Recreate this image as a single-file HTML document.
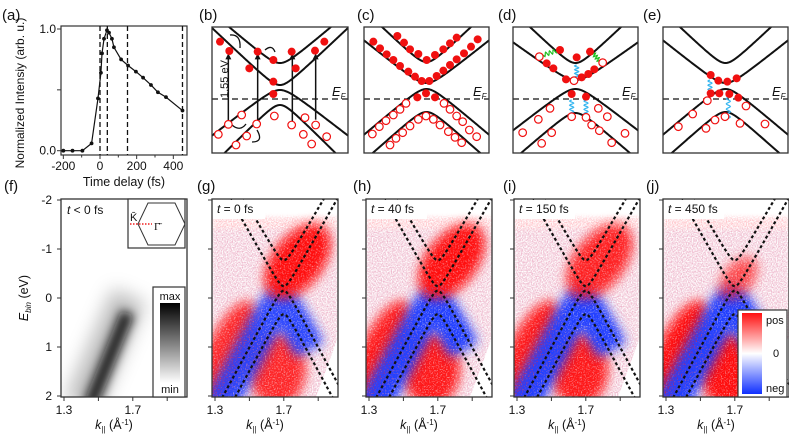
<!DOCTYPE html>
<html><head><meta charset="utf-8">
<style>
html,body{margin:0;padding:0;background:#fff;}
svg{display:block;font-family:"Liberation Sans",sans-serif;}
</style></head>
<body>
<svg id="fig" width="789" height="439" viewBox="0 0 789 439" xmlns="http://www.w3.org/2000/svg">
<defs>
  <filter id="spk" filterUnits="userSpaceOnUse" x="0" y="0" width="789" height="439">
    <feTurbulence type="fractalNoise" baseFrequency="0.75" numOctaves="1" seed="4" result="n"/>
    <feColorMatrix in="n" type="matrix" values="0 0 0 0 0  0 0 0 0 0  0 0 0 0 0  4 0 0 0 -1.0" result="m"/>
    <feGaussianBlur in="SourceGraphic" stdDeviation="5" result="b"/>
    <feComposite in="b" in2="m" operator="in"/>
  </filter>
  <filter id="spk2" filterUnits="userSpaceOnUse" x="0" y="0" width="789" height="439">
    <feTurbulence type="fractalNoise" baseFrequency="0.8" numOctaves="1" seed="9" result="n"/>
    <feColorMatrix in="n" type="matrix" values="0 0 0 0 0  0 0 0 0 0  0 0 0 0 0  2.2 0 0 0 -0.7" result="m"/>
    <feGaussianBlur in="SourceGraphic" stdDeviation="2" result="b"/>
    <feComposite in="b" in2="m" operator="in"/>
  </filter>
  <filter id="soft" filterUnits="userSpaceOnUse" x="0" y="0" width="789" height="439"><feGaussianBlur stdDeviation="7"/></filter>
  <filter id="blur5" x="-50%" y="-50%" width="200%" height="200%"><feGaussianBlur stdDeviation="5"/></filter>
  <filter id="blur9" x="-50%" y="-50%" width="200%" height="200%"><feGaussianBlur stdDeviation="9"/></filter>
  <linearGradient id="gray-grad" x1="0" y1="0" x2="0" y2="1">
    <stop offset="0" stop-color="#000"/><stop offset="1" stop-color="#fff"/>
  </linearGradient>
  <linearGradient id="div-grad" x1="0" y1="0" x2="0" y2="1">
    <stop offset="0" stop-color="#ff1010"/><stop offset="0.5" stop-color="#ffffff"/><stop offset="1" stop-color="#1030ff"/>
  </linearGradient>
</defs>
</svg>
<script>
// ---------- panel (a) data ----------
const delays = [-200,-150,-96,-46,-11,5,11,22,38,49,65,76,115,153,196,235,278,316,360,450];
const intensities = [0,0,0,0.06,0.43,0.64,0.80,0.92,0.99,0.97,0.92,0.85,0.75,0.70,0.65,0.60,0.54,0.48,0.44,0.33];
const markerTimes = [0,40,150,450];
const timeTicks = [-200,0,200,400];
const intTicks = [0.0,0.5,1.0];
const intTickLabels = ["0.0","","1.0"];

// ---------- ARPES panels ----------
const kTicks = [1.3,1.5,1.7,1.9];
const kTickLabels = ["1.3","","1.7",""];
const eTicks = [-2,-1,0,1,2];
const eTickLabels = ["-2","-1","0","1","2"];
const panelTimes = ["0","40","150","450"];
const cbVertices = [-0.77,-0.24];
const vbVertices = [-0.15,0.33];
const bandVel = [6.0,6.2,6.5,6.5];
const redBlob = [1.0,1.0,0.85,0.6];
const blueBand = [0.9,1.0,1.0,1.0];
const redLow = [0.8,0.9,0.9,1.0];

const NS="http://www.w3.org/2000/svg";
const svg=document.getElementById('fig');
function mk(tag,attrs,parent,text){const e=document.createElementNS(NS,tag);for(const k in attrs)e.setAttribute(k,attrs[k]);if(text!==undefined)e.textContent=text;(parent||svg).appendChild(e);return e;}

const labels=[["(a)",2,20],["(b)",199,20],["(c)",357,20],["(d)",498,20],["(e)",643,20],["(f)",4,191],["(g)",197,191],["(h)",353,191],["(i)",503,191],["(j)",646,191]];
labels.forEach(l=>{const t=mk('text',{x:l[1],y:l[2],'font-size':15,fill:'#111'},svg,l[0]);

});

// ---------- panel (a) ----------
(function(){
 const g=mk('g',{});
 
 
 const L=61,R=187,T=26,B=155;
 const X=t=>100+t*0.1833, Y=v=>150.7-v*121.7;
 const box=mk('rect',{x:L,y:T,width:R-L,height:B-T,fill:'none',stroke:'#333','stroke-width':1.2},g);
 
 
 markerTimes.forEach(t=>{const l=mk('line',{x1:X(t),x2:X(t),y1:T,y2:B,stroke:'#111','stroke-width':1.3,'stroke-dasharray':'5 3'},g);
  
  });
 timeTicks.forEach(t=>{mk('line',{x1:X(t),x2:X(t),y1:B,y2:B+4,stroke:'#333'},g);
  const tx=mk('text',{x:X(t),y:B+15,'font-size':12,'text-anchor':'middle',fill:'#111'},g,String(t));
  
  });
 [-100,100,300].forEach(t=>mk('line',{x1:X(t),x2:X(t),y1:B,y2:B+2.5,stroke:'#333'},g));
 intTicks.forEach((v,i)=>{mk('line',{x1:L-4,x2:L,y1:Y(v),y2:Y(v),stroke:'#333'},g);
  if(intTickLabels[i]){const tx=mk('text',{x:L-5,y:Y(v)+4,'font-size':12,'text-anchor':'end',fill:'#111'},g,intTickLabels[i]);
  
  }});
 const pts=delays.map((t,i)=>X(t)+','+Y(intensities[i])).join(' ');
 const pl=mk('polyline',{points:pts,fill:'none',stroke:'#111','stroke-width':1.2},g);
 
 
 delays.forEach((t,i)=>{const c=mk('circle',{cx:X(t),cy:Y(intensities[i]),r:1.9,fill:'#111'},g);
  
  });
 const xt=mk('text',{x:124,y:186,'font-size':12.5,'text-anchor':'middle',fill:'#111'},g,'Time delay (fs)');
 
 
 const yt=mk('text',{x:0,y:0,'font-size':12,'text-anchor':'middle',fill:'#111',transform:'translate(24,93) rotate(-90)'},g,'Normalized Intensiy (arb. u.)');
 
 
})();

// ---------- schematic panels b-e ----------
function band(g,L,T,W,v,k,dir){
 const a=8,pts=[];
 for(let dx=-W/2-5;dx<=W/2+5;dx+=1){const y=v+dir*(Math.sqrt(a*a+k*k*dx*dx)-a);pts.push((L+W/2+dx)+','+(T+y));}
 const p=mk('polyline',{points:pts.join(' '),fill:'none',stroke:'#111','stroke-width':2},g);
 
 
}
function schematic(name,L,W,bands,fillPts,openPts,ox,oy,extra){
 const T=27,H=126;
 const g=mk('g',{});
 
 
 const cid='clip-'+name;
 const cp=mk('clipPath',{id:cid},g);mk('rect',{x:L,y:T,width:W,height:H},cp);
 const inner=mk('g',{'clip-path':'url(#'+cid+')'},g);
 bands.forEach(b=>band(inner,L,T,W,b[0],b[1],b[2]));
 const ef=mk('line',{x1:L,x2:L+W,y1:99,y2:99,stroke:'#111','stroke-width':1.3,'stroke-dasharray':'6 4'},g);
 
 
 const eft=mk('text',{x:L+W-16,y:96,'font-size':13,'font-style':'italic',fill:'#111'},g,'E');
 mk('tspan',{'font-size':8,dy:3},eft,'F');
 
 
 if(extra)extra(g);
 fillPts.forEach(p=>{const c=mk('circle',{cx:p[0]/3+ox,cy:p[1]/3+oy,r:4,fill:'#f01010'},g);
  
  });
 openPts.forEach(p=>{const c=mk('circle',{cx:p[0]/3+ox,cy:p[1]/3+oy,r:3.8,fill:'#fff',stroke:'#f01010','stroke-width':1.2},g);
  
  });
 const fr=mk('rect',{x:L,y:T,width:W,height:H,fill:'none',stroke:'#333','stroke-width':1.3},g);
 
 
 return g;
}
function wiggle(g,x1,y1,x2,y2,color){
 const n=4,pts=[];const dx=x2-x1,dy=y2-y1,len=Math.hypot(dx,dy),nx=-dy/len,ny=dx/len;
 for(let i=0;i<=n*8;i++){const t=i/(n*8);const o=2*Math.sin(t*n*2*Math.PI);pts.push((x1+dx*t+nx*o)+','+(y1+dy*t+ny*o));}
 const p=mk('polyline',{points:pts.join(' '),fill:'none',stroke:color,'stroke-width':1.2},g);
 
 
}
// (b)
schematic('panel-b-schematic',212,136,[[36,0.85,-1],[58,0.95,-1],[63,0.78,1],[78,1.0,1]],
 [[75,125],[103,153],[163,205],[188,155],[235,180],[235,245],[235,282],[290,155],[302,205],[360,152],[388,125]],
 [[140,345],[100,373],[70,403],[185,372],[238,348],[155,408],[123,435],[290,375],[330,353],[362,375],[325,403],[350,432],[395,410]],
 195,0,function(g){
  [[100,375,160],[188,372,160],[292,372,160],[362,368,160]].forEach(a=>{
   const x=a[0]/3+195;
   const l=mk('line',{x1:x,x2:x,y1:a[1]/3-3,y2:a[2]/3+4,stroke:'#111','stroke-width':1.5},g);
   
   
   mk('path',{d:`M${x-3} ${a[2]/3+6} L${x} ${a[2]/3} L${x+3} ${a[2]/3+6}Z`,fill:'#111'},g);
  });
  [[`M230 35 Q241 34 240 48`],[`M265 50 Q272 44 275 52`],[`M232 125 Q240 132 246 124`],[`M257 130 Q264 142 252 142`]].forEach(d=>{
   const p=mk('path',{d:d[0],fill:'none',stroke:'#111','stroke-width':1.3},g);
   
   });
  const t=mk('text',{x:0,y:0,'font-size':11,fill:'#111',transform:'translate(228,98) rotate(-90)'},g,'1.55 eV');
  
  
 });
// (c)
schematic('panel-c-schematic',364,125,[[35,0.95,-1],[56,0.8,-1],[62,0.85,1],[85,0.9,1]],
 [[100,125],[120,145],[140,163],[160,180],[180,198],[205,215],[225,230],[245,243],[268,243],[290,228],[310,212],[330,195],[350,178],[372,160],[393,140],[413,118],
  [172,108],[192,128],[210,148],[235,162],[260,180],[285,165],[310,148],[330,130],[350,113],[232,292],[258,280],[285,292]],
 [[198,310],[180,328],[160,345],[138,362],[118,380],[97,402],[312,310],[330,328],[350,348],[368,365],[388,390],[410,410],
  [258,348],[235,358],[210,378],[188,398],[168,415],[150,435],[280,358],[300,375],[325,395],[345,412],[365,428]],
 340,0);
// (d)
schematic('panel-d-schematic',513,125,[[36,0.95,-1],[53,0.72,-1],[62,0.78,1],[86,0.87,1]],
 [[180,150],[140,190],[160,205],[230,172],[270,155],[283,208],[265,222],[245,232],[198,238],[215,282],[258,290]],
 [[118,170],[222,242],[308,188],[150,325],[115,358],[68,398],[125,430],[155,398],[215,350],[258,352],[295,325],[322,350],[275,375],[298,392],[335,428],[375,400]],
 500,0,function(g){
  wiggle(g,500+130/3,165/3,500+176/3,150/3,'#22c022');
  wiggle(g,500+278/3,158/3,500+300/3,185/3,'#22c022');
  wiggle(g,500+230/3,195/3,500+230/3,240/3,'#33b5f0');
  wiggle(g,500+215/3,300/3,500+215/3,350/3,'#33b5f0');
  wiggle(g,500+258/3,300/3,500+258/3,350/3,'#33b5f0');
 });
// (e)
schematic('panel-e-schematic',663,125,[[36,0.95,-1],[56,0.8,-1],[62,0.85,1],[85,0.9,1]],
 [[632,225],[655,242],[682,245],[710,235],[632,280],[658,280],[688,282],[715,293]],
 [[622,302],[578,342],[535,380],[618,385],[645,360],[675,350],[720,370],[738,318],[795,372]],
 500,0,function(g){
  wiggle(g,500+630/3,240/3,500+630/3,290/3,'#33b5f0');
  wiggle(g,500+685/3,292/3,500+685/3,355/3,'#33b5f0');
 });

// ---------- ARPES panels ----------
const T0=199,B0=397,W0=126;
function axes(g,L,showY){
 const X=k=>L+3+(k-1.3)*172, Y=E=>298+E*49;
 kTicks.forEach((k,i)=>{mk('line',{x1:X(k),x2:X(k),y1:B0,y2:B0+4,stroke:'#333'},g);
  if(kTickLabels[i]){const t=mk('text',{x:X(k),y:B0+17,'font-size':12,'text-anchor':'middle',fill:'#111'},g,kTickLabels[i]);
  
  }});
 eTicks.forEach((E,i)=>{mk('line',{x1:L-4,x2:L,y1:Y(E),y2:Y(E),stroke:'#333'},g);
  if(showY){const t=mk('text',{x:L-9,y:Y(E)+4,'font-size':12,'text-anchor':'end',fill:'#111'},g,eTickLabels[i]);
  
  }});
 const xt=mk('text',{x:L+W0/2-10,y:429,'font-size':12.5,'text-anchor':'middle',fill:'#111'},g);
 mk('tspan',{'font-style':'italic'},xt,'k');
 mk('tspan',{'font-size':8,dy:3},xt,'||');
 mk('tspan',{dy:-3},xt,' (Å');
 mk('tspan',{'font-size':8,dy:-4},xt,'-1');
 mk('tspan',{dy:4},xt,')');
 
 
 return {X,Y};
}
function frame(g,L){const r=mk('rect',{x:L,y:T0,width:W0,height:B0-T0,fill:'none',stroke:'#333','stroke-width':1.3},g);
 
 }

// (f)
(function(){
 const L=61;const g=mk('g',{});
 
 
 const {X,Y}=axes(g,L,true);
 const cp=mk('clipPath',{id:'clip-f'},g);mk('rect',{x:L,y:T0,width:W0,height:B0-T0},cp);
 const inner=mk('g',{'clip-path':'url(#clip-f)'},g);
 const halo=mk('line',{x1:X(1.40),y1:Y(2.2),x2:X(1.68),y2:Y(-0.05),stroke:'#000','stroke-opacity':0.25,'stroke-width':36,filter:'url(#blur9)'},inner);
 
 
 const core=mk('line',{x1:X(1.45),y1:Y(2.2),x2:X(1.67),y2:Y(0.3),stroke:'#0a0a0a','stroke-opacity':0.9,'stroke-width':14,filter:'url(#blur5)'},inner);
 
 
 frame(g,L);
 const yl=mk('text',{x:0,y:0,'font-size':12.5,'text-anchor':'middle',fill:'#111',transform:'translate(28,298) rotate(-90)'},g);
 mk('tspan',{'font-style':'italic'},yl,'E');
 mk('tspan',{'font-size':8,dy:3,'font-style':'italic'},yl,'bin');
 mk('tspan',{dy:-3},yl,' (eV)');
 
 
 const tl=mk('text',{x:67,y:214,'font-size':12,fill:'#111'},g);
 mk('tspan',{'font-style':'italic'},tl,'t');mk('tspan',{},tl,' < 0 fs');
 
 
 const ins=mk('g',{},g);
 
 
 mk('rect',{x:128,y:T0,width:57,height:49,fill:'#fff',stroke:'#333','stroke-width':1.2},ins);
 mk('polygon',{points:'148,203 175,203 185,224 175,245 148,245 138,224',fill:'none',stroke:'#333','stroke-width':1},ins);
 mk('line',{x1:130,y1:224,x2:152,y2:224,stroke:'#f02020','stroke-width':1.5,'stroke-dasharray':'1.5 1.5'},ins);
 mk('text',{x:130,y:221,'font-size':11,fill:'#111'},ins,'K̄');
 mk('text',{x:154,y:230,'font-size':11,fill:'#111','font-family':'Liberation Serif,serif'},ins,'Γ̄');
 const cb=mk('g',{},g);
 
 
 mk('rect',{x:153,y:287,width:32,height:110,fill:'#fff',stroke:'#333','stroke-width':1.2},cb);
 mk('rect',{x:160,y:303,width:20,height:80,fill:'url(#gray-grad)'},cb);
 mk('text',{x:170,y:300,'font-size':11,'text-anchor':'middle',fill:'#111'},cb,'max');
 mk('text',{x:170,y:393,'font-size':11,'text-anchor':'middle',fill:'#111'},cb,'min');
})();

// (g)-(j)
const lefts=[212,366,514,663];
const pnames=['g','h','i','j'];
lefts.forEach((L,pi)=>{
 const g=mk('g',{});
 
 
 const {X,Y}=axes(g,L,false);
 const cid='clip-'+pnames[pi];
 const cp=mk('clipPath',{id:cid},g);mk('rect',{x:L,y:T0,width:W0,height:B0-T0},cp);
 const inner=mk('g',{'clip-path':'url(#'+cid+')'},g);
 mk('rect',{x:L,y:T0+18,width:W0,height:B0-T0,fill:'#ff5060',opacity:0.4,filter:'url(#spk2)'},inner);
 mk('rect',{x:L,y:T0+30,width:W0,height:B0-T0,fill:'#8090ff',opacity:0.15,filter:'url(#spk2)'},inner);
 function feat(tag,attrs,color,op,nm){
  const a1=Object.assign({},attrs,{fill:color,opacity:op*0.45,filter:'url(#soft)'});
  const s=mk(tag,a1,inner);
  
  
  const a2=Object.assign({},attrs,{fill:color,opacity:op,filter:'url(#spk)'});
  const e=mk(tag,a2,inner);
  
  
 }
 // lower red regions (broad)
 feat('ellipse',{cx:X(1.36),cy:Y(1.2),rx:20,ry:60,transform:`rotate(25 ${X(1.36)} ${Y(1.2)})`},'#ff1010',redLow[pi],'positive-signal-low-left');
 feat('ellipse',{cx:X(1.66),cy:Y(1.45),rx:28,ry:36},'#ff1010',redLow[pi],'positive-signal-low-right');
 // blue valence band
 const pts=[];
 for(let k=1.30;k<=1.86;k+=0.01){const E=0.08+Math.sqrt(0.15*0.15+Math.pow(6.5*(k-1.68),2))-0.15;pts.push(X(k)+','+Y(E));}
 const bpath={points:pts.join(' '),fill:'none'};
 const bs=mk('polyline',Object.assign({},bpath,{stroke:'#2040ff','stroke-width':28,opacity:blueBand[pi]*0.5,filter:'url(#soft)'}),inner);
 
 
 const bb=mk('polyline',Object.assign({},bpath,{stroke:'#2040ff','stroke-width':30,opacity:blueBand[pi],filter:'url(#spk)'}),inner);
 
 
 // red conduction band blob
 const cx=pi===3?X(1.72):X(1.78), cy=pi===3?Y(-0.4):Y(-0.75);
 feat('ellipse',{cx:cx,cy:cy,rx:pi===3?24:42,ry:pi===3?14:24,transform:`rotate(-52 ${cx} ${cy})`},'#ff1010',redBlob[pi],'positive-signal-blob');
 mk('polygon',{points:`${L+W0},${Y(0.8)} ${L+W0},${B0} ${L+W0-22},${B0}`,fill:'#fff'},inner);
 function hyper(E0,v,dir){const p=[];for(let k=1.25;k<=2.05;k+=0.005){const E=E0+dir*(Math.sqrt(0.0225+Math.pow(v*(k-1.7),2))-0.15);p.push(X(k)+','+Y(E));}
  const l=mk('polyline',{points:p.join(' '),fill:'none',stroke:'#111','stroke-width':2.2,'stroke-dasharray':'3 2.5'},inner);
  
  }
 hyper(cbVertices[0],bandVel[0],-1);hyper(cbVertices[1],bandVel[1],-1);
 hyper(vbVertices[0],bandVel[2],1);hyper(vbVertices[1],bandVel[3],1);
 mk('rect',{x:L+1,y:T0+1,width:pi===0?52:60,height:19,fill:'#fff'},inner);
 const tl=mk('text',{x:L+5,y:T0+14,'font-size':12,fill:'#111'},g);
 mk('tspan',{'font-style':'italic'},tl,'t');mk('tspan',{},tl,' = '+panelTimes[pi]+' fs');
 
 
 frame(g,L);
 if(pi===3){
  const cb=mk('g',{},g);
  
  
  mk('rect',{x:738,y:310,width:49,height:87,fill:'#fff',stroke:'#333','stroke-width':1.2},cb);
  mk('rect',{x:742,y:313,width:20,height:81,fill:'url(#div-grad)'},cb);
  mk('text',{x:766,y:324,'font-size':11,fill:'#111'},cb,'pos');
  mk('text',{x:773,y:357,'font-size':11,fill:'#111'},cb,'0');
  mk('text',{x:766,y:392,'font-size':11,fill:'#111'},cb,'neg');
 }
});
</script>
</body></html>
